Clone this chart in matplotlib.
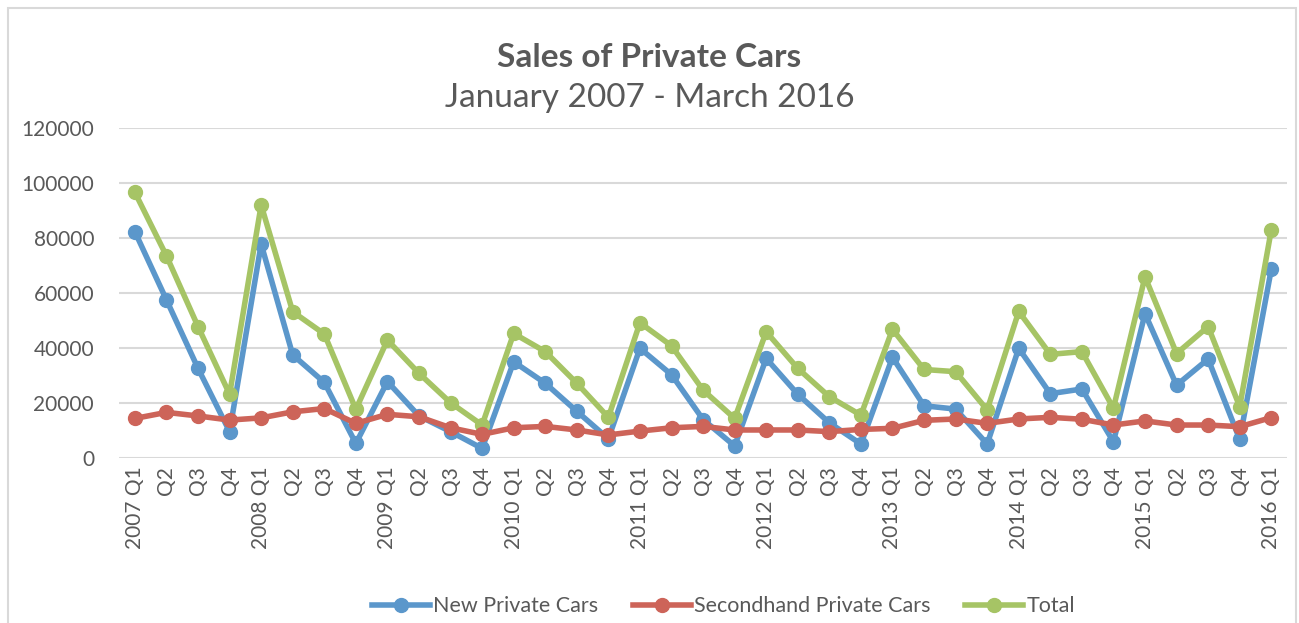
import matplotlib.pyplot as plt
from matplotlib.patches import Rectangle

# quarterly sales of private cars, 2007 Q1 - 2016 Q1
years = [str(y) for y in range(2007, 2017)]
quarters = ['Q1', 'Q2', 'Q3', 'Q4']
labels = []
for y in years:
    for q in quarters:
        if y == '2016' and q != 'Q1':
            break
        labels.append(f'{y} {q}' if q == 'Q1' else q)

new_cars = [82300, 57500, 32600, 9600, 77800, 37500, 27500, 5300,
            27800, 15300, 9600, 3500, 35000, 27200, 17000, 7000,
            39900, 30300, 14000, 4400, 36200, 23200, 12800, 5100,
            36600, 19000, 17800, 5100, 39900, 23400, 25100, 5900,
            52500, 26500, 36000, 6800, 68600]
secondhand = [14400, 16600, 15300, 13800, 14600, 16800, 18000, 12600,
              15900, 15000, 11000, 8600, 11000, 11500, 10200, 8400,
              9800, 11000, 11500, 10200, 10200, 10200, 9600, 10400,
              10800, 13700, 14200, 12600, 14200, 14800, 14100, 12000,
              13500, 12000, 12000, 11400, 14700]
total = [96600, 73500, 47800, 23200, 92000, 53200, 45100, 17700,
         42900, 30800, 20100, 12000, 45300, 38700, 27200, 14800,
         49200, 40800, 24700, 14400, 45900, 32600, 22300, 15600,
         46800, 32200, 31400, 17500, 53300, 37700, 38700, 18100,
         65900, 38000, 47800, 18700, 82900]

plt.rcParams['font.family'] = ['Lato', 'DejaVu Sans']
grey = '#595959'

fig = plt.figure(figsize=(12.99, 6.23), dpi=100)
ax = fig.add_axes([0.0917, 0.2648, 0.8991, 0.5297])

x = list(range(len(labels)))
ax.plot(x, new_cars, color='#5B97CB', lw=4, marker='o', ms=10, label='New Private Cars', zorder=3)
ax.plot(x, secondhand, color='#CD6459', lw=4, marker='o', ms=10, label='Secondhand Private Cars', zorder=4)
ax.plot(x, total, color='#A6C465', lw=4, marker='o', ms=10, label='Total', zorder=3)

ax.set_xlim(-0.5, len(labels) - 0.5)
ax.set_ylim(0, 120000)
ax.set_yticks(range(0, 120001, 20000))
ax.set_xticks(x)
ax.set_xticklabels(labels, rotation=90)
ax.tick_params(length=0, colors=grey, labelsize=15)
ax.tick_params(axis='y', pad=18)
ax.tick_params(axis='x', pad=6)
ax.grid(axis='y', color='#D9D9D9', lw=1.5)
ax.set_axisbelow(True)
for s in ax.spines.values():
    s.set_visible(False)

fig.text(0.5, 0.908, 'Sales of Private Cars', ha='center', va='center',
         fontsize=24, fontweight='bold', color=grey)
fig.text(0.5, 0.842, 'January 2007 - March 2016', ha='center', va='center',
         fontsize=24, color=grey)

fig.legend(loc='center', bbox_to_anchor=(0.557, 0.027), ncol=3, frameon=False,
           fontsize=15.5, labelcolor=grey, handlelength=2.7, columnspacing=1.6,
           handletextpad=0.15)

fig.patches.append(Rectangle((8 / 1299, -0.1), 1288 / 1299, 1.1 - 8 / 623,
                             transform=fig.transFigure, fill=False,
                             edgecolor='#D9D9D9', lw=1.5))

fig.savefig('out.png', dpi=100)
